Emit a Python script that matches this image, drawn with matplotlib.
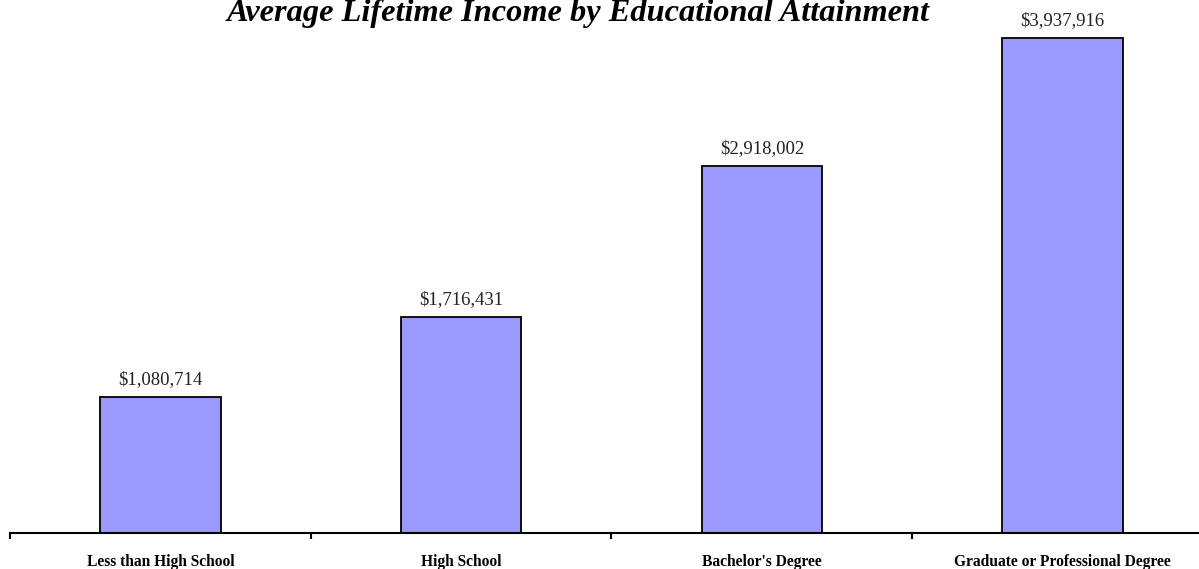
import matplotlib.pyplot as plt
import numpy as np

# 数据
categories = ['Less than High School', 'High School', "Bachelor's Degree",
              'Graduate or Professional Degree']
incomes = [1080714, 1716431, 2918002, 3937916]
value_labels = ['$1,080,714', '$1,716,431', '$2,918,002', '$3,937,916']

W, H = 1199, 569
fig = plt.figure(figsize=(W / 100, H / 100), dpi=100)
# 绘图区从左边 10px 开始，底线在 y=533px
ax = fig.add_axes([10 / W, (H - 533) / H, 1203 / W, 533 / H])

x = np.arange(len(categories))
ax.bar(x, incomes, width=0.4, color='#9999FF', edgecolor='black', linewidth=1.3)

ax.set_xlim(-0.5, len(categories) - 0.5)
ax.set_ylim(0, 3937916 * 533 / 495)

for xi, v, lab in zip(x, incomes, value_labels):
    ax.annotate(lab, (xi, v), xytext=(0, 9.5), textcoords='offset points',
                ha='center', va='baseline', fontsize=13.5, family='Liberation Serif',
                color='#222222')

for s in ['top', 'right', 'left']:
    ax.spines[s].set_visible(False)
ax.spines['bottom'].set_linewidth(1.5)
ax.set_yticks([])

ax.set_xticks(x)
ax.set_xticklabels(categories, fontsize=11.2, fontweight='bold', family='Liberation Serif')
ax.tick_params(axis='x', which='major', length=0, pad=15)
ax.set_xticks(np.arange(-0.5, len(categories), 1), minor=True)
ax.tick_params(axis='x', which='minor', length=4, width=1.5, direction='out')

fig.text(578 / W, 1 - 21 / H, 'Average Lifetime Income by Educational Attainment',
         ha='center', va='baseline', fontsize=23.3, fontweight='bold', style='italic',
         family='Liberation Serif')

fig.savefig('out.png', dpi=100)
